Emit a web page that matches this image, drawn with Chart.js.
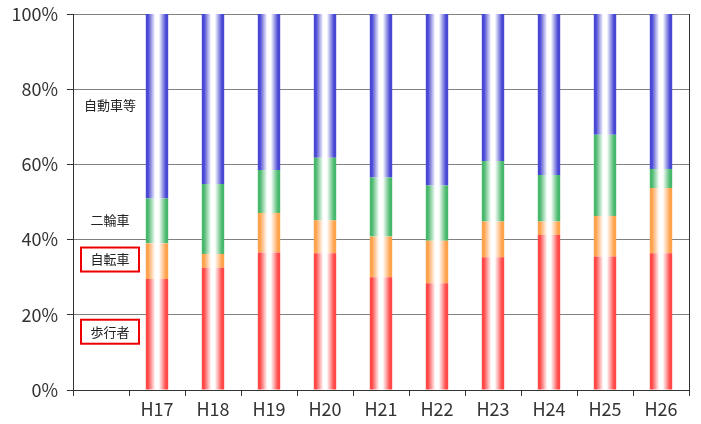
<!DOCTYPE html>
<html>
<head>
<meta charset="utf-8">
<script src="https://cdn.jsdelivr.net/npm/chart.js@4"></script>
<style>
  html, body { margin: 0; padding: 0; background: #fff; }
  #wrap { width: 701px; height: 424px; }
</style>
</head>
<body>
<div id="wrap"><canvas id="chart"></canvas></div>
<script>
// Categories (first slot is left empty for the series labels)
const categories = ['', 'H17', 'H18', 'H19', 'H20', 'H21', 'H22', 'H23', 'H24', 'H25', 'H26'];

// Shares in percent, bottom to top
const pedestrian = [null, 29.5, 32.5, 36.6, 36.4, 30.0, 28.4, 35.3, 41.2, 35.5, 36.4];
const bicycle    = [null, 9.5, 3.7, 10.5, 8.7, 10.8, 11.3, 9.5, 3.6, 10.8, 17.3];
const motorcycle = [null, 11.9, 18.6, 11.4, 16.7, 15.7, 14.7, 16.1, 12.4, 21.6, 5.1];
const automobile = [null, 49.1, 45.2, 41.5, 38.2, 43.5, 45.6, 39.1, 42.8, 32.1, 41.2];

const yTicks = [0, 20, 40, 60, 80, 100];

// Series names drawn inside the empty first slot
const seriesNames = ['自動車等', '二輪車', '自転車', '歩行者'];
const seriesNameLevels = [75.8, 45.2, 34.7, 15.5];
const seriesNameBoxed = [false, false, true, true];

const FONT = '"Noto Sans CJK JP", "Noto Sans", sans-serif';
const BAR_SHARE = 0.4;

// horizontal gradient: saturated edges, white centre
function barFill(color) {
  return (ctx) => {
    const chart = ctx.chart;
    const xs = chart.scales.x;
    if (!chart.chartArea || !xs) return color;
    const step = xs.getPixelForValue(1) - xs.getPixelForValue(0);
    const cx = xs.getPixelForValue(ctx.dataIndex);
    const half = step * BAR_SHARE / 2;
    const g = chart.ctx.createLinearGradient(cx - half, 0, cx + half, 0);
    g.addColorStop(0, color);
    g.addColorStop(0.1, color);
    g.addColorStop(0.42, '#ffffff');
    g.addColorStop(0.58, '#ffffff');
    g.addColorStop(0.9, color);
    g.addColorStop(1, color);
    return g;
  };
}

const frameAndLabels = {
  id: 'frameAndLabels',
  afterDraw(chart) {
    const c = chart.ctx;
    const area = chart.chartArea;
    const xs = chart.scales.x;
    const ys = chart.scales.y;
    c.save();
    // right border
    c.strokeStyle = '#333';
    c.lineWidth = 1;
    c.beginPath();
    c.moveTo(Math.round(area.right) + 0.5, area.top);
    c.lineTo(Math.round(area.right) + 0.5, area.bottom);
    c.stroke();

    // series names
    c.font = '13px ' + FONT;
    c.fillStyle = '#222';
    c.textAlign = 'center';
    c.textBaseline = 'middle';
    const cx = xs.getPixelForValue(0) + 9;
    for (let i = 0; i < seriesNames.length; i += 1) {
      const y = ys.getPixelForValue(seriesNameLevels[i]);
      c.fillText(seriesNames[i], cx, y);
      if (seriesNameBoxed[i]) {
        c.strokeStyle = '#ee0000';
        c.lineWidth = 2;
        c.strokeRect(cx - 29, y - 12, 58, 24);
      }
    }
    c.restore();
  }
};

const makeSet = (label, data, color) => ({
  label,
  data,
  backgroundColor: barFill(color),
  borderWidth: 0,
  barPercentage: BAR_SHARE,
  categoryPercentage: 1.0
});

new Chart(document.getElementById('chart'), {
  type: 'bar',
  data: {
    labels: categories,
    datasets: [
      makeSet('歩行者', pedestrian, '#ff4848'),
      makeSet('自転車', bicycle, '#ffa24c'),
      makeSet('二輪車', motorcycle, '#48b86c'),
      makeSet('自動車等', automobile, '#4848d4')
    ]
  },
  options: {
    responsive: true,
    maintainAspectRatio: false,
    animation: false,
    events: [],
    layout: { padding: { top: 14, right: 12, left: 0, bottom: 0 } },
    plugins: {
      legend: { display: false },
      tooltip: { enabled: false }
    },
    scales: {
      x: {
        stacked: true,
        afterFit: (scale) => { scale.height = 34; },
        grid: {
          offset: true,
          drawOnChartArea: false,
          drawTicks: true,
          tickLength: 6,
          color: '#333'
        },
        border: { color: '#333', width: 1 },
        ticks: {
          color: '#333',
          padding: 2,
          font: { family: FONT, size: 18 }
        }
      },
      y: {
        stacked: true,
        min: 0,
        max: 100,
        afterFit: (scale) => {
          scale.width = 73;
          scale.paddingTop = 0;
          scale.paddingBottom = 0;
        },
        afterBuildTicks: (scale) => { scale.ticks = yTicks.map(v => ({ value: v })); },
        grid: {
          color: '#808080',
          tickLength: 6,
          tickColor: '#333'
        },
        border: { color: '#333', width: 1 },
        ticks: {
          color: '#333',
          padding: 9,
          font: { family: FONT, size: 18 },
          callback: (v) => v + '%'
        }
      }
    }
  },
  plugins: [frameAndLabels]
});
</script>
</body>
</html>
